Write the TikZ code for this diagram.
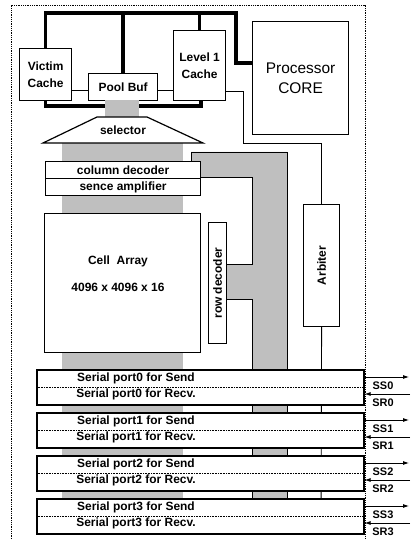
\documentclass[tikz,border=0pt]{standalone}
\usepackage{fontspec}
\setmainfont{Liberation Sans}
\usetikzlibrary{arrows.meta}
\begin{document}
\begin{tikzpicture}[x=1bp,y=-1bp,
  box/.style={draw,line width=1.2bp,fill=white,inner sep=0pt,anchor=north west,align=center,font=\bfseries\fontsize{12}{17}\selectfont},
  bus/.style={line width=3.6bp,line join=miter},
  wire/.style={line width=0.9bp},
  shade/.style={fill=black!25},
  portbox/.style={draw,line width=1.6bp,fill=white,anchor=north west,minimum width=327bp,minimum height=35bp,inner sep=0pt},
  lbl/.style={font=\bfseries\fontsize{12}{14}\selectfont,inner sep=0pt},
  slbl/.style={font=\bfseries\fontsize{11}{13}\selectfont,inner sep=0pt},
  sig/.style={-{Latex[length=6bp,width=4bp]},line width=0.8bp},
]
\useasboundingbox (0,0) rectangle (410,539);
% outer dotted frame
\draw[densely dotted,line width=0.8bp] (11,539) -- (11,5) -- (365,5) -- (365,539);

% shaded data paths
\fill[shade] (62,143) rectangle (183,533);
\fill[shade] (105,100) rectangle (139,117);
\draw[shade,wire] (191,152) -- (287,152) -- (287,533) -- (252,533) -- (252,299) -- (226,299) -- (226,264) -- (252,264) -- (252,177) -- (200,177) -- (200,161) -- (191,161) -- cycle;

% boxes
\node[box,minimum width=52bp,minimum height=52bp] (victim) at (19,48) {Victim\\Cache};
\node[box,minimum width=69bp,minimum height=27bp] (pool) at (88,73) {Pool Buf};
\node[box,minimum width=52bp,minimum height=70bp] (l1) at (173,30) {Level 1\\Cache};
\node[box,font=\fontsize{15.5}{20}\selectfont,minimum width=96bp,minimum height=113bp] (core) at (252,21) {Processor\\CORE};

% thick bus
\coordinate (bt) at (236,13);
\coordinate (cin) at (252,63);
\draw[bus] (victim.north) |- (bt) |- (cin);
\draw[bus] (pool.north) -- (pool.north |- bt);
\draw[bus] (l1.north) -- (l1.north |- bt);
\draw[bus] (victim.south) |- (201,106) -- (201,100);
\fill[shade] (105,100) rectangle (139,117);

% thin wires
\draw[wire] ([yshift=-3.5bp]pool.west) -- ([yshift=-3.5bp]pool.west -| victim.east);
\draw[wire] ([yshift=-3.5bp]pool.east) -- ([yshift=-3.5bp]pool.east -| l1.west);

% selector
\draw[line width=1.2bp,fill=white] (43,143) -- (97,117) -- (147,117) -- (203,143) -- cycle;
\node[lbl] (sel) at (123,130) {selector};

% memory
\node[box,minimum width=155bp,minimum height=17bp] (coldec) at (45,161) {column decoder};
\node[box,minimum width=155bp,minimum height=17bp] (senamp) at (45,178) {sence amplifier};
\node[box,minimum width=156bp,minimum height=139bp] (cell) at (44,213) {};
\node[lbl] (cellt) at (118,261) {Cell\ \ Array};
\node[lbl] (cells) at (118,287) {4096 x 4096 x 16};
\node[box,minimum width=18bp,minimum height=121bp] (rowdec) at (208,222) {};
\node[lbl,rotate=90] (rowdect) at (rowdec.center) {row decoder};

% arbiter
\node[box,minimum width=36bp,minimum height=122bp] (arb) at (303,204) {};
\node[lbl,rotate=90] (arbt) at (arb.center) {Arbiter};
\coordinate (bend) at (243,143);
\draw[wire] ([yshift=-26bp]l1.east) -| (bend) -| (arb.north);
\coordinate (abot) at (321,533);
\draw[wire] (arb.south) -- (abot);

% serial ports
\foreach \i/\t in {0/369,1/412,2/455,3/498} {
  \node[portbox] (p\i) at (36,\t) {};
  \draw[densely dotted,line width=0.6bp] (p\i.west) -- (p\i.east);
  \node[lbl] (ps\i) at (136,\t+9) {Serial port\i\ for Send};
  \node[lbl] (pr\i) at (136,\t+25) {Serial port\i\ for Recv.};
  \coordinate (ss\i) at (409,\t+8);
  \coordinate (sr\i) at (410,\t+25);
  \draw[sig] (p\i.east |- ss\i) -- (ss\i);
  \draw[sig] (sr\i) -- (p\i.east |- sr\i);
  \node[slbl] (lss\i) at (383,\t+17) {SS\i};
  \node[slbl] (lsr\i) at (383,\t+34) {SR\i};
}
\end{tikzpicture}
\end{document}
